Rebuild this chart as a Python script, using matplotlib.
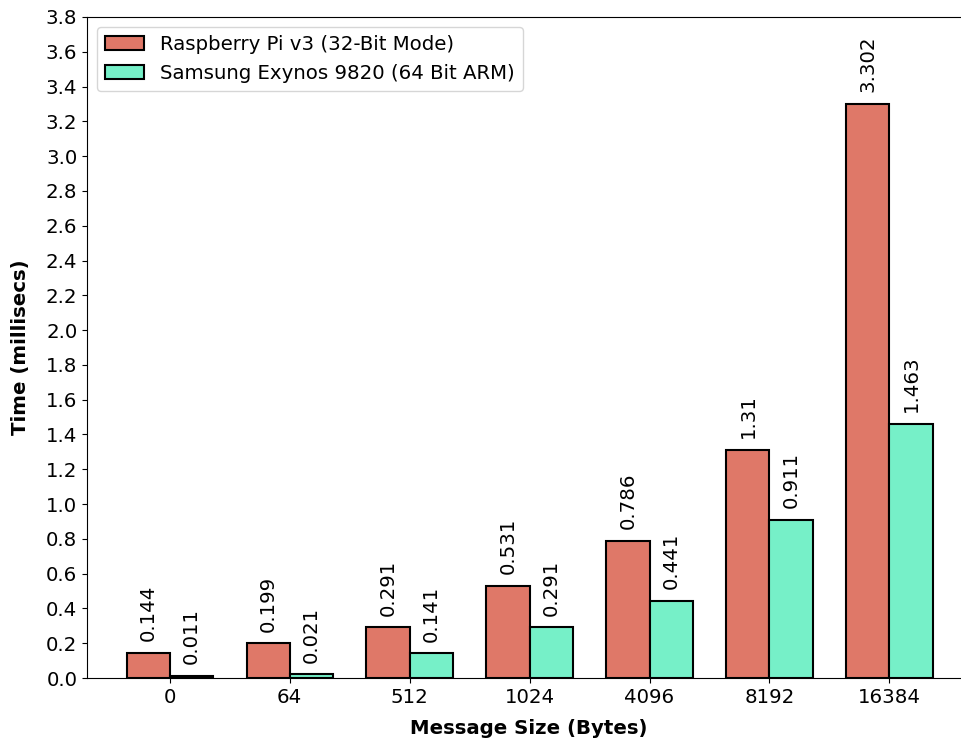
import matplotlib
matplotlib.use('Agg')
import matplotlib.pyplot as plt
import numpy as np

sizes = ['0', '64', '512', '1024', '4096', '8192', '16384']
rpi = [0.144, 0.199, 0.291, 0.531, 0.786, 1.31, 3.302]
exynos = [0.011, 0.021, 0.141, 0.291, 0.441, 0.911, 1.463]
labels = ['Raspberry Pi v3 (32-Bit Mode)', 'Samsung Exynos 9820 (64 Bit ARM)']

plt.rcParams['font.size'] = 14.2

fig = plt.figure(figsize=(9.62, 7.43), dpi=100)
ax = fig.add_axes([87 / 962, 65 / 743, 884 / 962, 661 / 743])

x = np.arange(len(sizes))
w = 0.36
b1 = ax.bar(x - w / 2, rpi, w, color='#df7868', edgecolor='black', linewidth=1.5, label=labels[0])
b2 = ax.bar(x + w / 2, exynos, w, color='#76f0c8', edgecolor='black', linewidth=1.5, label=labels[1])

for bars, vals in [(b1, rpi), (b2, exynos)]:
    for bar, v in zip(bars, vals):
        ax.annotate(str(v), (bar.get_x() + bar.get_width() / 2, bar.get_height()),
                    xytext=(0, 8.5), textcoords='offset points',
                    ha='center', va='bottom', rotation=90)

ax.set_xticks(x)
ax.set_xticklabels(sizes)
ax.set_xlim(-0.69, 6.68)
ax.set_ylim(0, 3.8)
ax.set_yticks(np.arange(0, 3.81, 0.2))
ax.set_yticklabels(['%.1f' % t for t in np.arange(0, 3.81, 0.2)])
ax.set_xlabel('Message Size (Bytes)', fontweight='bold', labelpad=9)
ax.set_ylabel('Time (millisecs)', fontweight='bold', labelpad=11)
ax.legend(loc='upper left')

plt.savefig('out.png', dpi=100)
